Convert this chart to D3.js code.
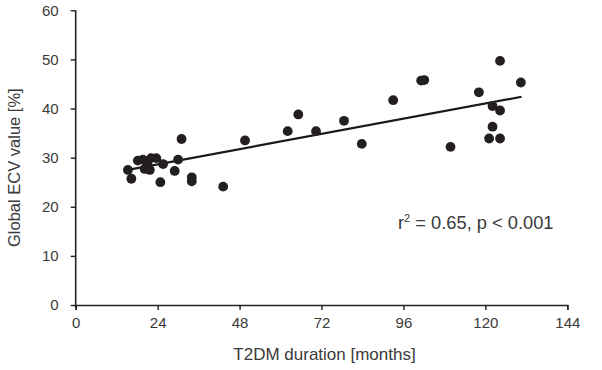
<!DOCTYPE html>
<html>
<head>
<meta charset="utf-8">
<script src="https://cdn.jsdelivr.net/npm/d3@7"></script>
<style>
  body { margin: 0; background: #fff; }
  text { font-family: "Liberation Sans", Arial, sans-serif; fill: #3a3a3a; }
</style>
</head>
<body>
<div id="wrapper"></div>
<script>
'use strict';

// data
const durationMonths = [15.3, 16.3, 18.2, 19.7, 20.2, 21.0, 21.7, 22.1, 23.6, 24.8, 25.6, 29.0, 30.0, 31.0,
  34.0, 34.0, 43.2, 49.6, 62.1, 65.2, 70.4, 78.6, 83.8, 93.0, 101.2, 102.1, 109.8, 118.1,
  121.1, 122.1, 122.1, 124.3, 124.3, 124.3, 130.4];
const ecvValues = [27.5, 25.7, 29.4, 29.6, 27.7, 28.9, 27.5, 29.9, 29.9, 25.0, 28.7, 27.3, 29.6, 33.8,
  26.0, 25.2, 24.1, 33.5, 35.4, 38.8, 35.4, 37.5, 32.8, 41.7, 45.7, 45.8, 32.2, 43.3,
  33.9, 36.3, 40.5, 33.9, 39.6, 49.7, 45.3];

// regression line end points
const fitDuration = [15.3, 130.6];
const fitEcv = [27.5, 42.4];

const xTicks = [0, 24, 48, 72, 96, 120, 144];
const yTicks = [0, 10, 20, 30, 40, 50, 60];

const xLabel = 'T2DM duration [months]';
const yLabel = 'Global ECV value [%]';
const statLabel = ['r', '2', ' = 0.65, p < 0.001'];

function drawScatter () {
  const dimensions = {
    width: 602,
    height: 370,
    margin: { top: 10.3, right: 34.7, bottom: 65, left: 75.7 },
  };
  dimensions.boundedWidth = dimensions.width - dimensions.margin.left - dimensions.margin.right;
  dimensions.boundedHeight = dimensions.height - dimensions.margin.top - dimensions.margin.bottom;

  const xScale = d3.scaleLinear()
    .domain([0, 144])
    .range([0, dimensions.boundedWidth]);

  const yScale = d3.scaleLinear()
    .domain([0, 60])
    .range([dimensions.boundedHeight, 0]);

  const wrapper = d3.select('#wrapper')
    .append('svg')
    .attr('width', dimensions.width)
    .attr('height', dimensions.height);

  const bounds = wrapper.append('g')
    .attr('transform', `translate(${dimensions.margin.left}, ${dimensions.margin.top})`);

  // axes
  const xAxis = bounds.append('g')
    .attr('transform', `translate(0, ${dimensions.boundedHeight})`)
    .call(d3.axisBottom(xScale).tickValues(xTicks).tickSize(5).tickPadding(5));

  const yAxis = bounds.append('g')
    .call(d3.axisLeft(yScale).tickValues(yTicks).tickSize(5).tickPadding(12));

  [xAxis, yAxis].forEach(axis => {
    axis.select('.domain').attr('stroke', '#222').attr('stroke-width', 1.6);
    axis.selectAll('.tick line').attr('stroke', '#222').attr('stroke-width', 1.4);
    axis.selectAll('.tick text')
      .style('font-size', '15px')
      .attr('fill', '#3a3a3a');
  });
  // y axis drawn down to the x tick length
  yAxis.select('.domain').attr('d', `M0,0V${dimensions.boundedHeight + 3}`);
  xAxis.selectAll('.tick text').attr('dy', '0.85em');

  // fit line
  const fitData = fitDuration.map((d, i) => ({ x: d, y: fitEcv[i] }));
  const lineGenerator = d3.line()
    .x(d => xScale(d.x))
    .y(d => yScale(d.y));
  bounds.append('path')
    .attr('d', lineGenerator(fitData))
    .attr('fill', 'none')
    .attr('stroke', '#1a1a1a')
    .attr('stroke-width', 2.2);

  // points
  bounds.selectAll('circle')
    .data(durationMonths.map((d, i) => ({ x: d, y: ecvValues[i] })))
    .join('circle')
    .attr('cx', d => xScale(d.x))
    .attr('cy', d => yScale(d.y))
    .attr('r', 4.9)
    .attr('fill', '#231f20');

  // axis titles
  wrapper.append('text')
    .attr('x', dimensions.margin.left + dimensions.boundedWidth / 2 + 3)
    .attr('y', 360)
    .attr('text-anchor', 'middle')
    .style('font-size', '17px')
    .text(xLabel);

  wrapper.append('text')
    .attr('transform', `translate(20, ${dimensions.margin.top + dimensions.boundedHeight / 2 + 10}) rotate(-90)`)
    .attr('text-anchor', 'middle')
    .style('font-size', '16.5px')
    .text(yLabel);

  // statistics
  const stat = wrapper.append('text')
    .attr('x', 398)
    .attr('y', 229)
    .style('font-size', '18.3px');
  stat.append('tspan').text(statLabel[0]);
  stat.append('tspan').attr('dy', -7).style('font-size', '11px').text(statLabel[1]);
  stat.append('tspan').attr('dy', 7).text(statLabel[2]);
}

drawScatter();
</script>
</body>
</html>
